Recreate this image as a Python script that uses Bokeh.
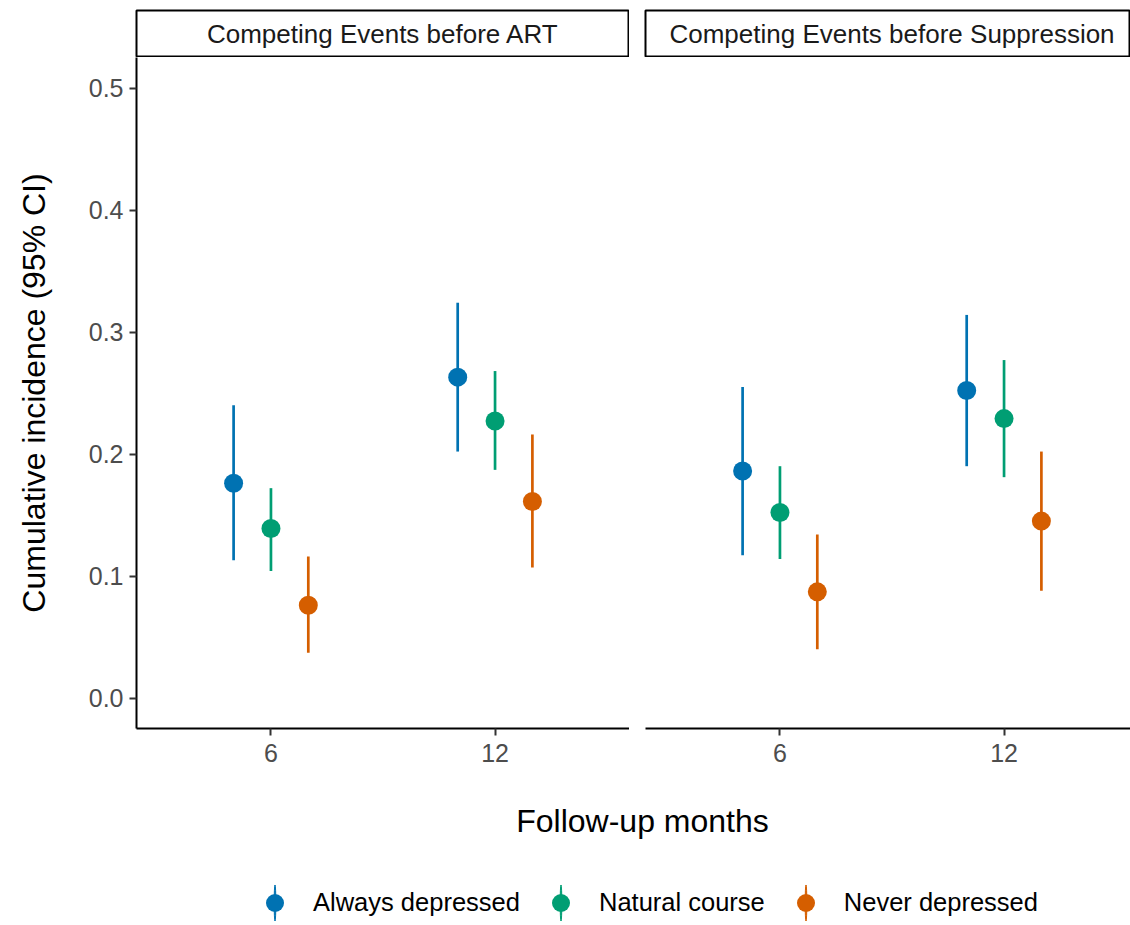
from bokeh.plotting import figure
from bokeh.layouts import column, row
from bokeh.models import ColumnDataSource, Range1d, FixedTicker, Label, Legend, LegendItem
from bokeh.transform import dodge
from bokeh.embed import file_html
from bokeh.resources import INLINE

# ---------------- data ----------------
facets = ["Competing Events before ART", "Competing Events before Suppression"]
months = ["6", "12"]
groups = ["Always depressed", "Natural course", "Never depressed"]
colors = ["#0072B2", "#009E73", "#D55E00"]

# Competing Events before ART  (values at 6 and 12 months)
art_always_est = [0.176, 0.263]
art_always_lo = [0.113, 0.202]
art_always_hi = [0.240, 0.324]
art_natural_est = [0.139, 0.227]
art_natural_lo = [0.104, 0.187]
art_natural_hi = [0.172, 0.268]
art_never_est = [0.076, 0.161]
art_never_lo = [0.037, 0.107]
art_never_hi = [0.116, 0.216]

# Competing Events before Suppression
sup_always_est = [0.186, 0.252]
sup_always_lo = [0.117, 0.190]
sup_always_hi = [0.255, 0.314]
sup_natural_est = [0.152, 0.229]
sup_natural_lo = [0.114, 0.181]
sup_natural_hi = [0.190, 0.277]
sup_never_est = [0.087, 0.145]
sup_never_lo = [0.040, 0.088]
sup_never_hi = [0.134, 0.202]

y_ticks = [0.0, 0.1, 0.2, 0.3, 0.4, 0.5]

panel_data = [
    [(art_always_est, art_always_lo, art_always_hi),
     (art_natural_est, art_natural_lo, art_natural_hi),
     (art_never_est, art_never_lo, art_never_hi)],
    [(sup_always_est, sup_always_lo, sup_always_hi),
     (sup_natural_est, sup_natural_lo, sup_natural_hi),
     (sup_never_est, sup_never_lo, sup_never_hi)],
]

# ---------------- style ----------------
FONT = "Liberation Sans"
TICK_SIZE = "25px"
STRIP_SIZE = "26px"
LEGEND_SIZE = "25.5px"
BIG = "32px"
TICK_COL = "#4D4D4D"
DODGE_WIDTH = 0.5
PT_SIZE = 19
BAR_W = 2.7

x_pos = [i + 1 for i in range(len(months))]
x_lo = 0.4
x_hi = len(months) + 0.6

left_w, right_w = 629, 501
left_border, gap = 136, 16
strip_h, panel_h, bottom_h = 57, 733, 135
legend_left = 160

y_range = Range1d(-0.025, 0.525)
x_range_left = Range1d(x_lo, x_hi)
# right panel is cut by the image edge
right_frame = right_w - gap
left_frame = left_w - left_border
x_range_right = Range1d(x_lo, x_lo + (x_hi - x_lo) * right_frame / left_frame)
x_ranges = [x_range_left, x_range_right]


def base_fig(w, h, xr, yr, **kw):
    p = figure(width=w, height=h, x_range=xr, y_range=yr, toolbar_location=None,
               output_backend="svg", **kw)
    p.outline_line_color = None
    p.background_fill_color = "white"
    p.border_fill_color = "white"
    p.xgrid.visible = False
    p.ygrid.visible = False
    return p


panels = []
strips = []
for k, facet in enumerate(facets):
    is_left = k == 0
    w = left_w if is_left else right_w
    # ---- strip ----
    s = base_fig(w, strip_h, x_ranges[k], Range1d(0, 1),
                 x_axis_location=None, y_axis_location=None,
                 min_border_left=left_border if is_left else gap, min_border_right=0,
                 min_border_top=10, min_border_bottom=1)
    s.outline_line_color = "black"
    s.outline_line_width = 2
    s.add_layout(Label(x=(x_lo + x_hi) / 2, y=0.5, text=facet, text_align="center",
                       text_baseline="middle", text_font=FONT, text_font_size=STRIP_SIZE,
                       text_color="#1A1A1A"))
    strips.append(s)

    # ---- panel ----
    p = base_fig(w, panel_h, x_ranges[k], y_range,
                 y_axis_location="left" if is_left else None,
                 min_border_left=left_border if is_left else gap, min_border_right=0,
                 min_border_top=0, min_border_bottom=panel_h - 671)
    for g, (est, lo, hi) in enumerate(panel_data[k]):
        src = ColumnDataSource(dict(x=x_pos, est=est, lo=lo, hi=hi))
        off = (g - (len(groups) - 1) / 2) * DODGE_WIDTH / len(groups)
        p.segment(x0=dodge("x", off), y0="lo", x1=dodge("x", off), y1="hi", source=src,
                  line_color=colors[g], line_width=BAR_W, line_cap="butt")
        p.scatter(x=dodge("x", off), y="est", source=src, size=PT_SIZE,
                  fill_color=colors[g], line_color=colors[g], line_width=0)

    xa = p.xaxis[0]
    xa.ticker = FixedTicker(ticks=x_pos)
    xa.major_label_overrides = {x: m for x, m in zip(x_pos, months)}
    axes = [xa]
    if is_left:
        ya = p.yaxis[0]
        ya.ticker = FixedTicker(ticks=y_ticks)
        ya.major_label_overrides = {t: f"{t:.1f}" for t in y_ticks}
        ya.axis_label = "Cumulative incidence (95% CI)"
        ya.axis_label_standoff = 34
        ya.major_label_standoff = 6
        axes.append(ya)
    xa.major_label_standoff = 8
    for a in axes:
        a.axis_line_color = "black"
        a.axis_line_width = 2
        a.major_tick_line_color = "#333333"
        a.major_tick_line_width = 2
        a.major_tick_in = 0
        a.major_tick_out = 7
        a.minor_tick_line_color = None
        a.major_label_text_font = FONT
        a.major_label_text_font_size = TICK_SIZE
        a.major_label_text_color = TICK_COL
        a.axis_label_text_font = FONT
        a.axis_label_text_font_size = BIG
        a.axis_label_text_font_style = "normal"
        a.axis_label_text_color = "black"
    panels.append(p)

# ---- bottom: x-axis title + legend ----
total_w = left_w + right_w
pb = base_fig(total_w, bottom_h, Range1d(legend_left, total_w),
              Range1d(strip_h + panel_h + bottom_h, strip_h + panel_h),
              x_axis_location=None, y_axis_location=None,
              min_border_left=legend_left, min_border_right=0, min_border_top=0,
              min_border_bottom=0)
# x-axis title, centred under the two panels
pb.add_layout(Label(x=642, y=820, text="Follow-up months", text_align="center",
                    text_baseline="middle", text_font=FONT, text_font_size=BIG,
                    text_color="black"))
items = []
nan = float("nan")
for g, name in enumerate(groups):
    # legend-only proxies (no position -> nothing drawn in the plot area)
    src = ColumnDataSource(dict(x=[nan], y=[nan]))
    bar = pb.ellipse(x="x", y="y", width=1.7, height=36, width_units="screen",
                     height_units="screen", source=src, fill_color=colors[g],
                     line_color=colors[g], line_width=1)
    pt = pb.scatter(x="x", y="y", source=src, size=PT_SIZE, fill_color=colors[g],
                    line_color=colors[g], line_width=0)
    items.append(LegendItem(label=name, renderers=[bar, pt]))
legend = Legend(items=items, orientation="horizontal", location="bottom_center",
                glyph_width=45, glyph_height=45, label_standoff=16, spacing=18,
                padding=0, margin=0, border_line_color=None, background_fill_alpha=0,
                label_text_font=FONT, label_text_font_size=LEGEND_SIZE,
                label_text_color="black", click_policy="none")
pb.add_layout(legend)

layout = column(row(*strips), row(*panels), pb)
open("out.html", "w").write(file_html(layout, INLINE))
